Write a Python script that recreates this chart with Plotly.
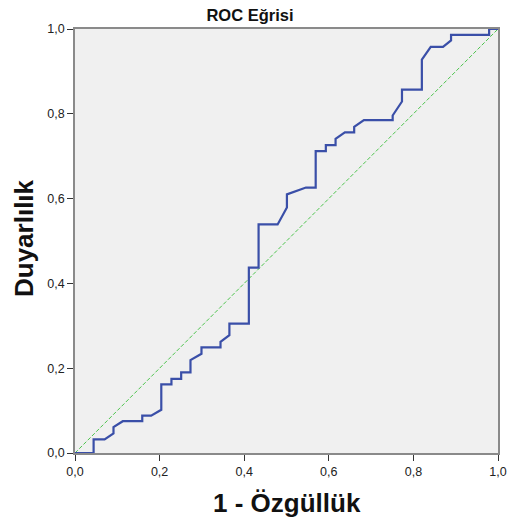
import plotly.graph_objects as go

# ROC curve vertices (1 - specificity, sensitivity)
fpr = [0.0, 0.044, 0.044, 0.07, 0.091, 0.091, 0.113, 0.159, 0.159, 0.18, 0.204, 0.204,
       0.228, 0.228, 0.251, 0.251, 0.273, 0.273, 0.299, 0.299, 0.344, 0.344, 0.365,
       0.365, 0.411, 0.411, 0.434, 0.434, 0.479, 0.501, 0.501, 0.546, 0.569, 0.569,
       0.593, 0.593, 0.616, 0.616, 0.638, 0.66, 0.66, 0.683, 0.751, 0.751, 0.773,
       0.773, 0.82, 0.82, 0.841, 0.87, 0.889, 0.889, 0.979, 0.979, 1.0]
tpr = [0.0, 0.0, 0.032, 0.032, 0.046, 0.061, 0.075, 0.075, 0.088, 0.088, 0.102, 0.162,
       0.162, 0.175, 0.175, 0.19, 0.19, 0.219, 0.234, 0.249, 0.249, 0.262, 0.278,
       0.305, 0.305, 0.437, 0.437, 0.539, 0.539, 0.579, 0.61, 0.626, 0.626, 0.712,
       0.712, 0.726, 0.726, 0.741, 0.756, 0.756, 0.769, 0.785, 0.785, 0.796, 0.829,
       0.857, 0.857, 0.928, 0.958, 0.958, 0.973, 0.986, 0.986, 1.0, 1.0]
ref_x = [0.0, 1.0]
ref_y = [0.0, 1.0]
tick_vals = [0.0, 0.2, 0.4, 0.6, 0.8, 1.0]

FONT = "Liberation Sans, Arial"

fig = go.Figure()
fig.add_trace(go.Scatter(x=ref_x, y=ref_y, mode="lines",
                         line=dict(color="#4cc44c", width=1, dash="4px,2px"),
                         hoverinfo="skip", showlegend=False))
fig.add_trace(go.Scatter(x=fpr, y=tpr, mode="lines",
                         line=dict(color="#3a4fa8", width=2.2),
                         showlegend=False))

axis_common = dict(
    range=[0, 1], tickvals=tick_vals, tickformat=".1f",
    showgrid=False, zeroline=False, showline=True, mirror=True,
    linecolor="#8a8a8a", linewidth=1.5,
    ticks="outside", ticklen=6, tickcolor="#333333", tickwidth=1,
    tickfont=dict(family=FONT, size=12.5, color="#222222"),
    fixedrange=True, automargin=False,
)

fig.update_layout(
    width=507, height=522,
    margin=dict(l=75, r=9, t=29, b=69),
    paper_bgcolor="white", plot_bgcolor="#f0f0f0",
    separators=",.",
    title=dict(text="<b>ROC Eğrisi</b>", x=0.493, xref="container", xanchor="center",
               y=1 - 15 / 522, yref="container", yanchor="middle",
               font=dict(family=FONT, size=16.5, color="#111111")),
    xaxis=axis_common,
    yaxis=axis_common,
    annotations=[
        dict(text="<b>1 - Özgüllük</b>", xref="paper", yref="paper",
             x=0.5, y=-0.118, xanchor="center", yanchor="middle", showarrow=False,
             font=dict(family=FONT, size=26, color="#111111")),
        dict(text="<b>Duyarlılık</b>", xref="paper", yref="paper",
             x=-0.1206, y=0.507, xanchor="center", yanchor="middle", showarrow=False,
             textangle=-90, font=dict(family=FONT, size=26, color="#111111")),
    ],
)

fig.write_html("out.html", config={"displayModeBar": False},
               post_script="document.body.style.margin='0';document.body.style.overflow='hidden';")
